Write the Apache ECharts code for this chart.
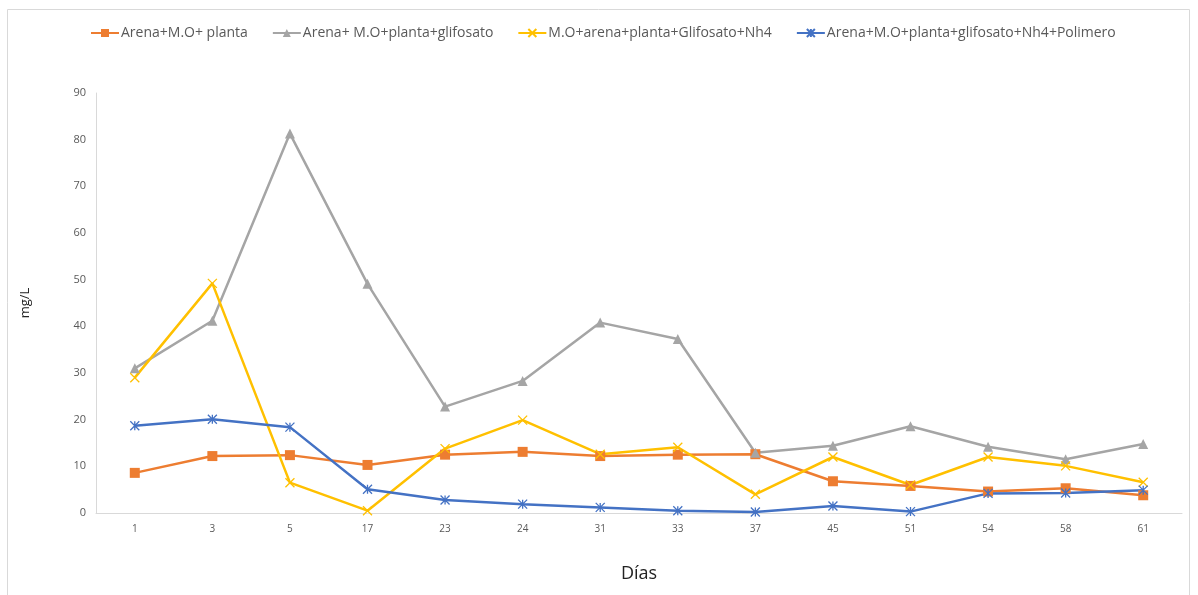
<!DOCTYPE html>
<html><head><meta charset="utf-8">
<script src="https://cdn.jsdelivr.net/npm/echarts@6/dist/echarts.min.js"></script>
<style>html,body{margin:0;padding:0;background:#fff}#c{width:1198px;height:595px}</style>
</head><body><div id="c"></div>
<script>
const categories = ['1','3','5','17','23','24','31','33','37','45','51','54','58','61'];
const seriesNames = ['Arena+M.O+ planta','Arena+ M.O+planta+glifosato','M.O+arena+planta+Glifosato+Nh4','Arena+M.O+planta+glifosato+Nh4+Polimero'];
const planta = [8.6,12.2,12.4,10.3,12.5,13.1,12.2,12.5,12.6,6.8,5.8,4.6,5.3,3.8];
const glifosato = [31,41.2,81.3,49.1,22.8,28.3,40.8,37.3,12.9,14.4,18.6,14.2,11.5,14.8];
const nh4 = [29,49.2,6.5,0.5,13.8,19.9,12.6,14.1,4.0,12.0,6.0,12.0,10.1,6.6];
const polimero = [18.7,20.1,18.4,5.1,2.8,1.9,1.2,0.5,0.2,1.5,0.3,4.2,4.3,4.9];
const yTicks = [0,10,20,30,40,50,60,70,80,90];

const colors = ['#ED7D31','#A5A5A5','#FFC000','#4472C4'];
const font = '"Open Sans", "Liberation Sans", sans-serif';
const crossPath = 'path://M0,0L10,10M10,0L0,10';
const starPath = 'path://M0,0L10,10M10,0L0,10M5,0L5,10';

function mk(name, data, color, symbol, size, stroke) {
  return {
    name, type: 'line', data, symbol, symbolSize: size,
    lineStyle: {color, width: 2.5},
    itemStyle: stroke ? {color: color, borderColor: color, borderWidth: 1.3} : {color},
    emphasis: {disabled: true}, animation: false
  };
}

const chart = echarts.init(document.getElementById('c'));
chart.setOption({
  animation: false,
  textStyle: {fontFamily: font},
  graphic: [{type: 'rect', shape: {x: 7.5, y: 9.5, width: 1182, height: 600}, style: {fill: 'none', stroke: '#d9d9d9', lineWidth: 1}}],
  legend: {
    top: 21, left: 85, itemGap: 24, itemWidth: 28, itemHeight: 10,
    textStyle: {fontSize: 14, color: '#595959', fontFamily: font, padding: [0, 0, 0, -3]},
    data: seriesNames
  },
  grid: {left: 96, right: 16, top: 93, bottom: 82, containLabel: false},
  xAxis: {
    type: 'category', data: categories, boundaryGap: true,
    name: 'Días', nameLocation: 'middle', nameGap: 52,
    nameTextStyle: {fontSize: 18, color: '#222', fontFamily: font},
    axisLine: {lineStyle: {color: '#d9d9d9', width: 1}},
    axisTick: {show: false},
    axisLabel: {fontSize: 10, color: '#595959', margin: 11}
  },
  yAxis: {
    type: 'value', min: 0, max: 90, interval: 10,
    name: 'mg/L', nameLocation: 'middle', nameGap: 64, nameRotate: 90,
    nameTextStyle: {fontSize: 13, color: '#222', fontFamily: font},
    axisLine: {show: true, lineStyle: {color: '#d9d9d9', width: 1}},
    axisTick: {show: false},
    splitLine: {show: false},
    axisLabel: {fontSize: 11, color: '#595959', margin: 10,
      formatter: v => yTicks.includes(v) ? String(v) : ''}
  },
  series: [
    mk(seriesNames[0], planta, colors[0], 'rect', 10, false),
    mk(seriesNames[1], glifosato, colors[1], 'triangle', 10, false),
    mk(seriesNames[2], nh4, colors[2], crossPath, 9, true),
    mk(seriesNames[3], polimero, colors[3], starPath, 9, true)
  ]
});
</script></body></html>
